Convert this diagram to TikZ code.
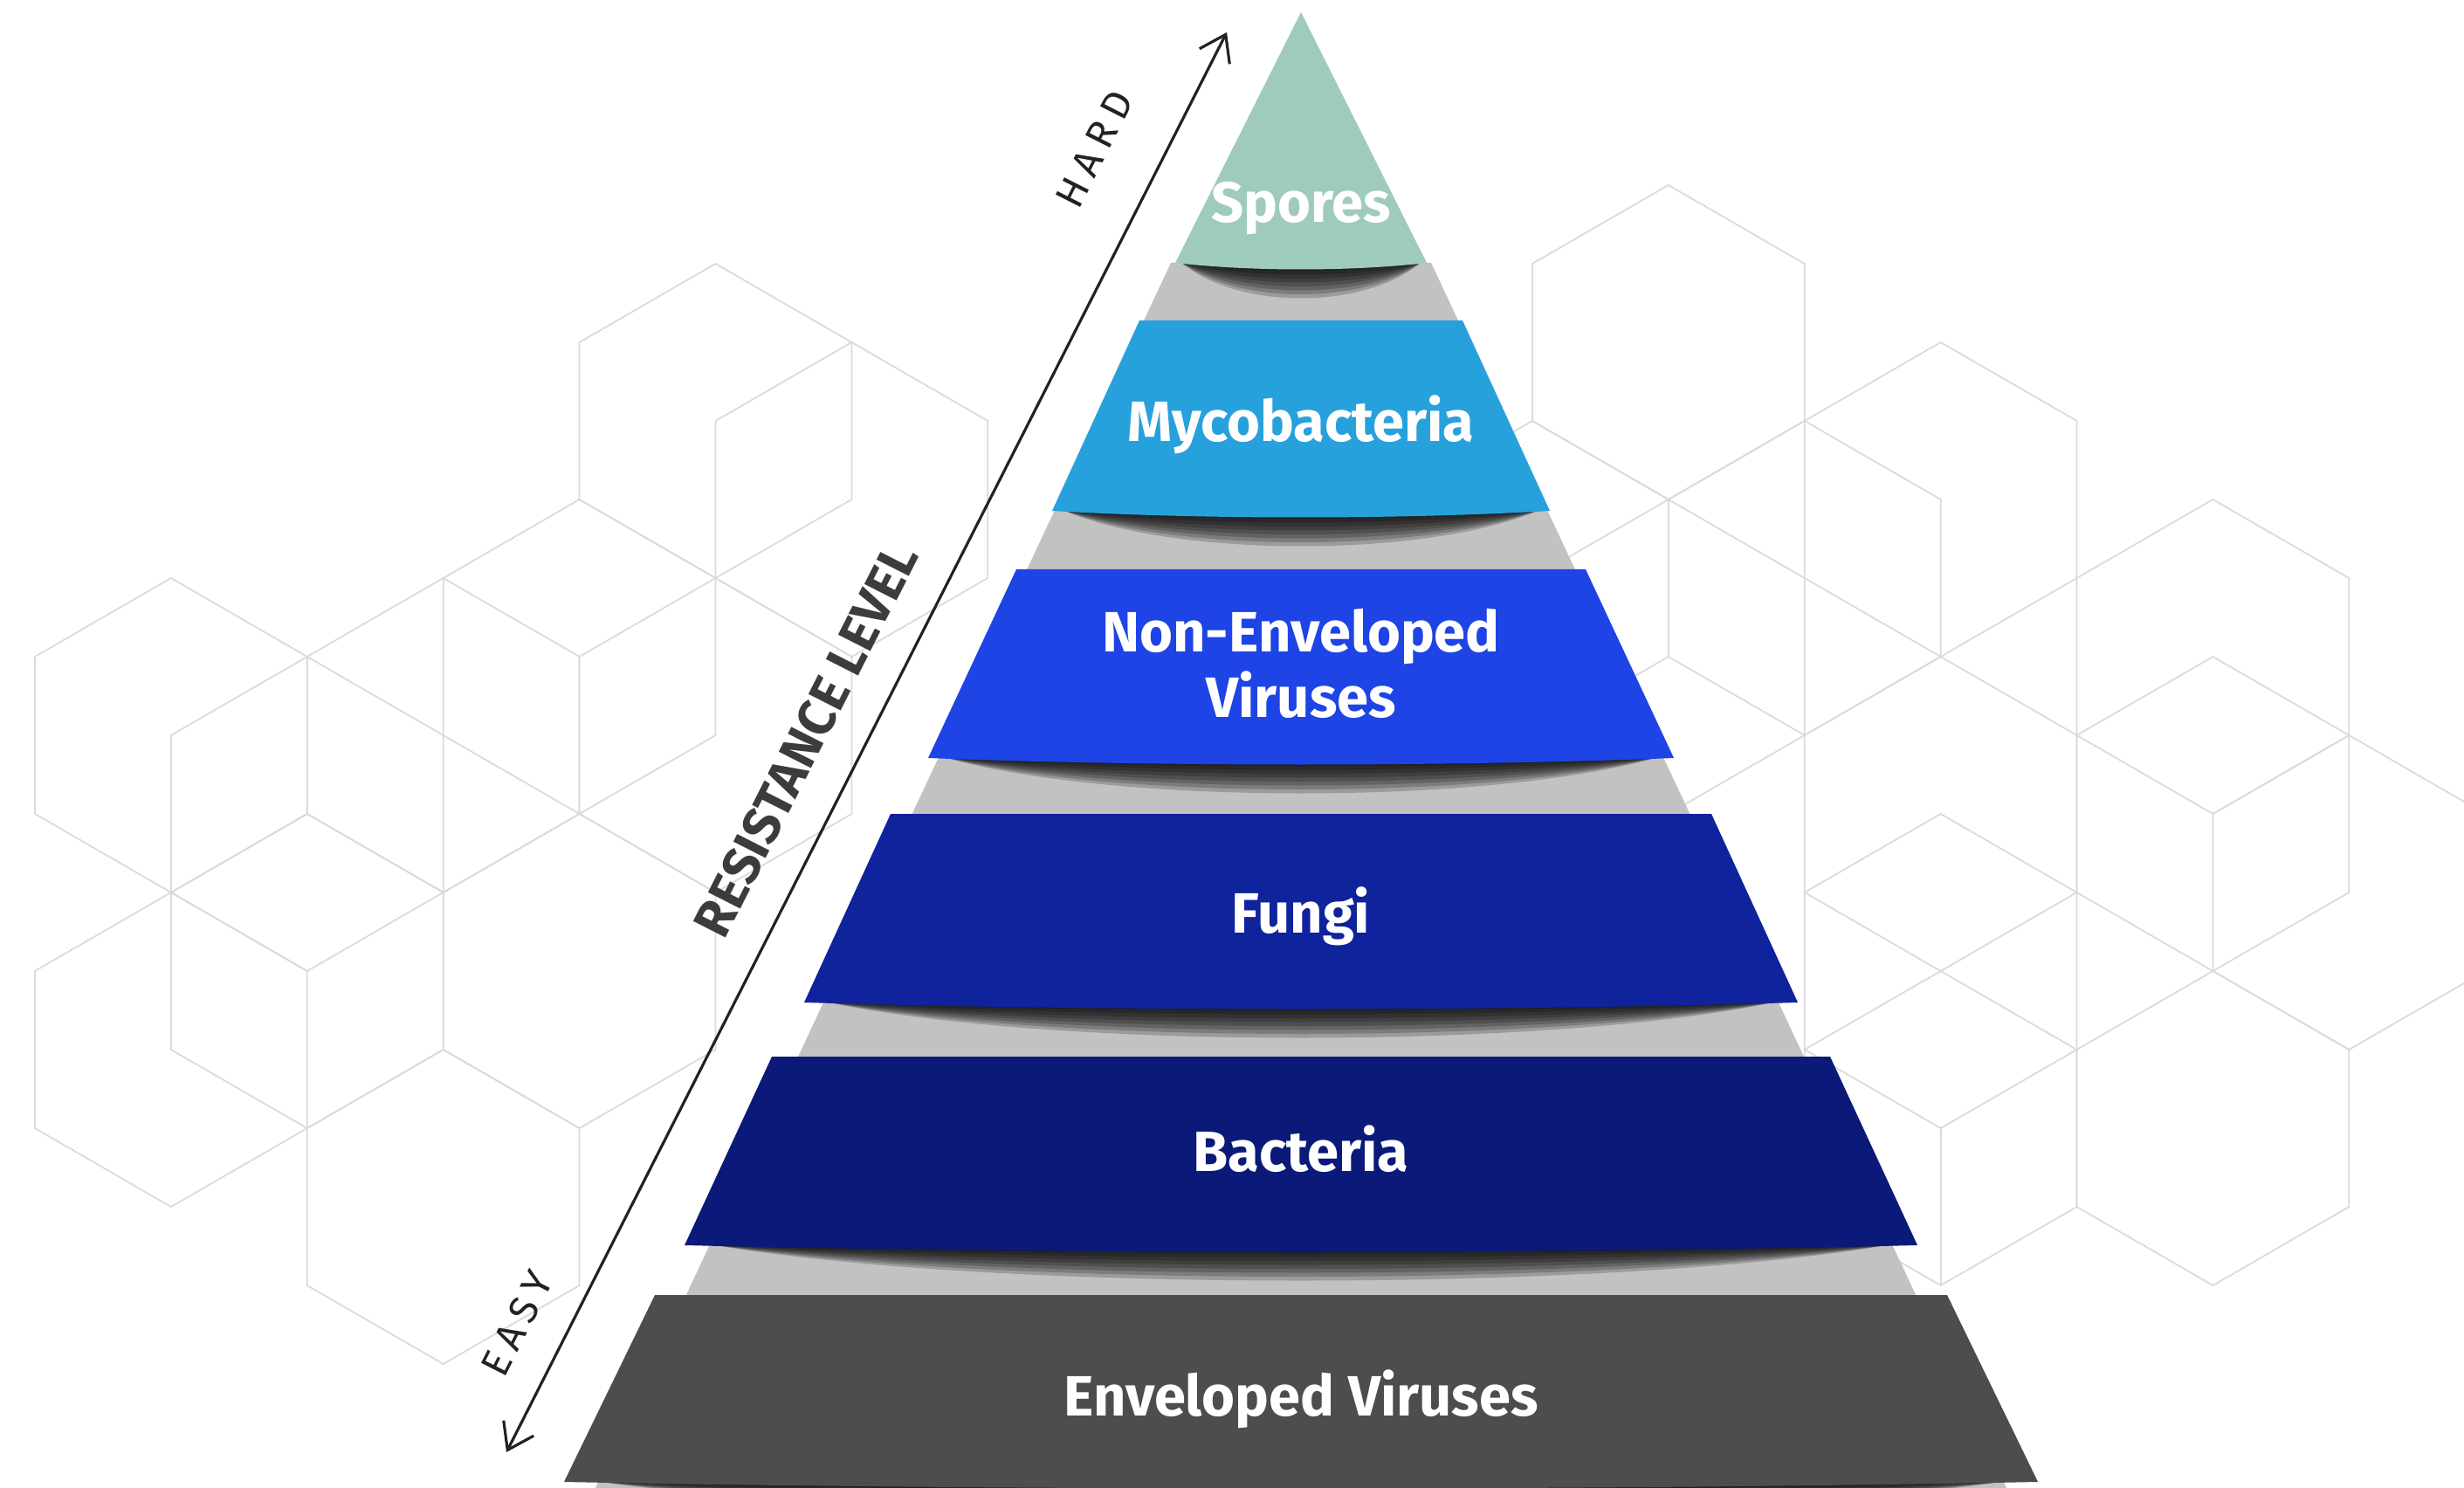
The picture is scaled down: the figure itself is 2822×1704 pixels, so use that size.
\documentclass[tikz,border=0pt]{standalone}
\usepackage{fontspec}
\setmainfont{Fira Sans}
\newfontfamily\spacedfont[LetterSpace=20]{Fira Sans}
\usetikzlibrary{arrows.meta}

\definecolor{sporecol}{HTML}{9FCBBD}
\definecolor{mycocol}{HTML}{27A1DC}
\definecolor{nonenvcol}{HTML}{1E44E6}
\definecolor{fungicol}{HTML}{0F239C}
\definecolor{bactcol}{HTML}{0B1A78}
\definecolor{envcol}{HTML}{4D4D4D}
\definecolor{gapcol}{HTML}{C2C2C2}
\definecolor{hexcol}{HTML}{DADADA}
\definecolor{axiscol}{HTML}{222222}
\definecolor{titlecol}{HTML}{3C3C3C}

\tikzset{
    hexline/.style={
        draw=hexcol,
        line width=0.5pt
    },
    layerlabel/.style={
        text=white,
        align=center,
        inner sep=0pt,
        font=\fontsize{18.5}{21.5}\selectfont\bfseries
    },
    shadowpart/.style={
        fill=black,
        opacity=0.2
    },
    axisarrow/.style={
        draw=axiscol,
        line width=0.9pt,
        {Straight Barb[length=8pt,width=11pt]}-{Straight Barb[length=8pt,width=11pt]}
    },
    axistext/.style={
        text=axiscol,
        sloped,
        anchor=south,
        inner xsep=0pt,
        font=\spacedfont\fontsize{13}{15}\selectfont
    },
    axistitle/.style={
        text=titlecol,
        sloped,
        anchor=south,
        inner xsep=0pt,
        font=\fontsize{17}{19}\selectfont\bfseries
    }
}

% one band of the pyramid: colour, top y, top half width, bottom y, bottom half width
\newcommand{\pyrband}[5]{%
    \foreach \s in {6,12,...,54} {
        \fill[shadowpart] (1490-#5*0.95,#4) .. controls (1490-#5*0.5,#4+\s) and (1490+#5*0.5,#4+\s) .. (1490+#5*0.95,#4) -- cycle;
    }
    \fill[#1] (1490-#3,#2) -- (1490+#3,#2) -- (1490+#5,#4)
        .. controls (1490+#5*0.4,#4+10) and (1490-#5*0.4,#4+10) .. (1490-#5,#4) -- cycle;
}

\begin{document}
\begin{tikzpicture}[x=0.01cm, y=-0.01cm]

\useasboundingbox (0,0) rectangle (2822,1704);

% hexagon grid behind
\foreach \i/\j in {5/5,6/6,1/9,2/10,3/9,4/8,5/9,1/13,2/12,4/12,3/15,
                   12/4,11/7,13/7,14/6,12/8,14/10,14/12,16/8,16/10,17/11,16/14,14/14} {
    \draw[hexline] ({40+155.9*\i},{32+90*\j-180}) -- ++(155.9,90) -- ++(0,180)
        -- ++(-155.9,90) -- ++(-155.9,-90) -- ++(0,-180) -- cycle;
}
\draw[hexline] ({40+155.9*14},{32+90*14}) -- ++(0,180);

% grey body
\fill[gapcol] (1341,301) -- (1639,301) -- (2298,1704) -- (682,1704) -- cycle;

% bands
\pyrband{sporecol}{14}{0}{301}{144}
\pyrband{mycocol}{367}{185}{585}{285}
\pyrband{nonenvcol}{652}{326}{868}{427}
\pyrband{fungicol}{932}{470}{1148}{569}
\pyrband{bactcol}{1210}{606}{1426}{706}
\pyrband{envcol}{1483}{740}{1697}{844}

% labels
\node[layerlabel] (spores) at (1490,239) {Spores};
\node[layerlabel] (myco) at (1490,486) {Mycobacteria};
\node[layerlabel] (nonenv) at (1490,760) {Non-Enveloped\\Viruses};
\node[layerlabel] (fungi) at (1490,1049) {Fungi};
\node[layerlabel] (bact) at (1490,1316) {Bacteria};
\node[layerlabel] (env) at (1490,1602) {Enveloped Viruses};

% resistance axis
\coordinate (easyend) at (580,1663);
\coordinate (hardend) at (1405,37);
\draw[axisarrow] (easyend) -- (hardend)
    node[axistext, pos=0.075, inner ysep=0.38cm] (easy) {EASY}
    node[axistitle, pos=0.484, inner ysep=0.40cm] (level) {RESISTANCE LEVEL}
    node[axistext, pos=0.897, inner ysep=0.57cm] (hard) {HARD};

\end{tikzpicture}
\end{document}
